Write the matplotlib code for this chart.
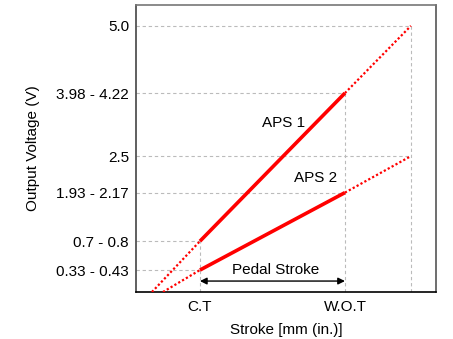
import matplotlib
matplotlib.use("Agg")
import matplotlib.pyplot as plt

plt.rcParams["font.family"] = ["Liberation Sans", "DejaVu Sans"]

# schematic units: x -> C.T = 0, W.O.T = 1 ; y -> output voltage (schematic)
x_ticks = [0.0, 1.0]
x_labels = ["C.T", "W.O.T"]
x_full = 1.455                     # end of 5.0 V extension
y_ticks = [0.314, 0.868, 1.80, 2.5, 3.71, 5.0]
y_labels = ["0.33 - 0.43", "0.7 - 0.8", "1.93 - 2.17", "2.5", "3.98 - 4.22", "5.0"]
y_min, y_max = -0.107, 5.4

# APS 1: start (bottom), C.T, W.O.T, full
aps1_x = [-0.331, 0.0, 1.0, x_full]
aps1_y = [y_min, 0.868, 3.71, 5.0]
# APS 2
aps2_x = [-0.255, 0.0, 1.0, x_full]
aps2_y = [y_min, 0.314, 1.80, 2.5]

fig = plt.figure(figsize=(4.53, 3.39), dpi=100)
ax = fig.add_axes([136 / 453, 1 - 292 / 339, 300 / 453, 287 / 339])
ax.set_xlim(-0.441, 1.628)
ax.set_ylim(y_min, y_max)

grid = dict(color="#bbbbbb", linestyle=(0, (3, 2.5)), linewidth=0.8, zorder=1)
# horizontal guides (to the point where the line meets them)
for y, xe in zip(y_ticks, [0.0, 0.0, 1.0, x_full, 1.0, x_full]):
    ax.plot([-0.441, xe], [y, y], **grid)
# vertical guides
for xv, ye in zip([0.0, 1.0, x_full], [0.868, 3.71, 5.0]):
    ax.plot([xv, xv], [y_min, ye], **grid)

red = "#ff0000"
for xs, ys in [(aps1_x, aps1_y), (aps2_x, aps2_y)]:
    ax.plot(xs[:2], ys[:2], color=red, linestyle=(0, (1, 1)), linewidth=1.6, zorder=3)
    ax.plot(xs[1:3], ys[1:3], color=red, linewidth=2.6, solid_capstyle="butt", zorder=3)
    ax.plot(xs[2:], ys[2:], color=red, linestyle=(0, (1, 1)), linewidth=1.6, zorder=3)

ax.annotate("", xy=(0.0, 0.103), xytext=(1.0, 0.103),
            arrowprops=dict(arrowstyle="<|-|>", color="black", lw=1.0,
                            mutation_scale=10, shrinkA=0, shrinkB=0))
ax.text(0.524, 0.314, "Pedal Stroke", ha="center", va="center", fontsize=11)
ax.text(0.576, 3.13, "APS 1", ha="center", va="center", fontsize=11)
ax.text(0.80, 2.086, "APS 2", ha="center", va="center", fontsize=11)

ax.set_xticks(x_ticks)
ax.set_xticklabels(x_labels, fontsize=11)
ax.set_yticks(y_ticks)
ax.set_yticklabels(y_labels, fontsize=11)
ax.tick_params(length=0, pad=5)
ax.tick_params(axis="x", pad=6)
ax.set_xlabel("Stroke [mm (in.)]", fontsize=11, labelpad=6)
ax.set_ylabel("Output Voltage (V)", fontsize=11, labelpad=12)

ax.spines["top"].set_color("#777777")
ax.spines["left"].set_color("#444444")
ax.spines["right"].set_color("#555555")
ax.spines["bottom"].set_color("black")
for s in ax.spines.values():
    s.set_linewidth(1.2)

fig.savefig("out.png", dpi=100)
